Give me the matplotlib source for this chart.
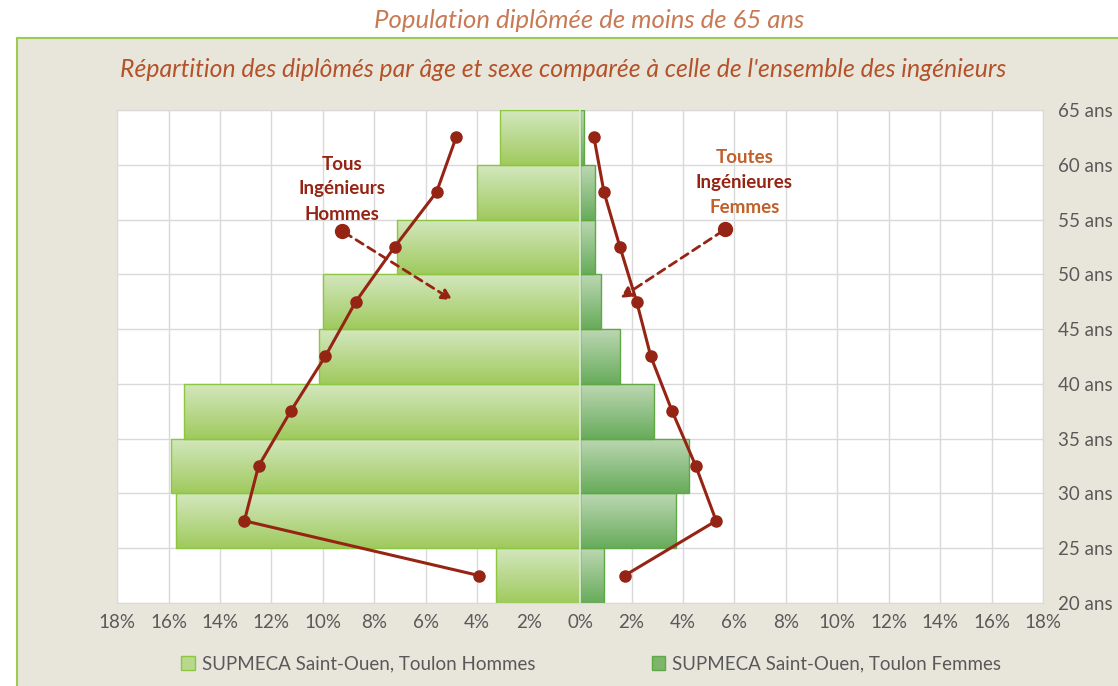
import numpy as np
import matplotlib
matplotlib.use("Agg")
import matplotlib.pyplot as plt
from matplotlib.patches import Patch, Rectangle
from matplotlib.colors import LinearSegmentedColormap

plt.rcParams['font.family'] = ['Lato', 'DejaVu Sans']

# age bands (lower bound of each 5-year band)
ages = [20, 25, 30, 35, 40, 45, 50, 55, 60]
age_ticks = [20, 25, 30, 35, 40, 45, 50, 55, 60, 65]

# SUPMECA graduates, % per band
supmeca_hommes = [3.27, 15.7, 15.9, 15.4, 10.14, 9.99, 7.13, 4.02, 3.11]
supmeca_femmes = [0.93, 3.72, 4.22, 2.86, 1.55, 0.8, 0.58, 0.58, 0.16]

# all engineers, % per band
tous_hommes = [3.92, 13.05, 12.5, 11.25, 9.91, 8.72, 7.21, 5.58, 4.82]
toutes_femmes = [1.73, 5.29, 4.5, 3.58, 2.75, 2.2, 1.55, 0.93, 0.54]

xticks = list(range(-18, 19, 2))

dark_red = '#962414'
orange = '#C0602A'

fig = plt.figure(figsize=(11.18, 6.86), dpi=100)
fig.patch.set_facecolor('white')

# beige frame with green border
fig.add_artist(Rectangle((0.0152, -0.01), 1.0, 0.9546, transform=fig.transFigure,
                         facecolor='#E8E6DB', edgecolor='#9CCB52', linewidth=1.5, zorder=0))

ax = fig.add_axes([0.1047, 0.121, 0.8283, 0.7187])
ax.set_facecolor('white')

men_cmap = LinearSegmentedColormap.from_list('m', ['#A0CA5E', '#D3E7BE'])
women_cmap = LinearSegmentedColormap.from_list('f', ['#68AC5C', '#BCD7B2'])
grad = np.linspace(0, 1, 64).reshape(-1, 1)

bars_m = ax.barh(ages, [-v for v in supmeca_hommes], height=5, align='edge',
                 facecolor='none', edgecolor='#8DC640', linewidth=1, zorder=3)
bars_f = ax.barh(ages, supmeca_femmes, height=5, align='edge',
                 facecolor='none', edgecolor='#5FA843', linewidth=1, zorder=3)

for bars, cmap in ((bars_m, men_cmap), (bars_f, women_cmap)):
    for b in bars:
        x0, y0 = b.get_x(), b.get_y()
        x1, y1 = x0 + b.get_width(), y0 + b.get_height()
        im = ax.imshow(grad, cmap=cmap, extent=[min(x0, x1), max(x0, x1), y0, y1],
                       origin='lower', aspect='auto', zorder=2)
        im.set_clip_path(b)

# light separator at 0
ax.axvline(0, color='#E4EEDC', lw=1.2, zorder=4)

mids = [a + 2.5 for a in ages]
ax.plot([-v for v in tous_hommes], mids, color=dark_red, lw=2.2, marker='o', ms=8, zorder=5)
ax.plot(toutes_femmes, mids, color=dark_red, lw=2.2, marker='o', ms=8, zorder=5)

# annotations
ax.plot([-9.26], [53.96], 'o', color=dark_red, ms=10, zorder=6)
ax.annotate('', xy=(-4.86, 47.5), xytext=(-9.26, 53.96),
            arrowprops=dict(arrowstyle='-|>', color=dark_red, lw=2, ls=(0, (3, 2)),
                            mutation_scale=16), zorder=6)
ax.plot([5.64], [54.1], 'o', color=dark_red, ms=10, zorder=6)
ax.annotate('', xy=(1.48, 47.7), xytext=(5.64, 54.1),
            arrowprops=dict(arrowstyle='-|>', color=dark_red, lw=2, ls=(0, (3, 2)),
                            mutation_scale=16), zorder=6)

for txt, y in (('Tous', 60.0), ('Ingénieurs', 57.8), ('Hommes', 55.5)):
    ax.text(-9.26, y, txt, ha='center', va='center', fontsize=13.5, fontweight='bold',
            color=dark_red, zorder=7)
for txt, y, c in (('Toutes', 60.7, orange), ('Ingénieures', 58.4, dark_red), ('Femmes', 56.1, orange)):
    ax.text(6.38, y, txt, ha='center', va='center', fontsize=13.5, fontweight='bold',
            color=c, zorder=7)

ax.set_xlim(-18, 18)
ax.set_ylim(20, 65)
ax.set_xticks(xticks)
ax.set_xticklabels([f'{abs(t)}%' for t in xticks])
ax.set_yticks(age_ticks)
ax.set_yticklabels([f'{a} ans' for a in age_ticks])
ax.yaxis.tick_right()
ax.tick_params(length=0, labelsize=13.5, colors='#595959', pad=8)
ax.tick_params(axis='y', pad=11)
ax.grid(True, color='#D9D9D9', lw=1)
ax.set_axisbelow(True)
for s in ax.spines.values():
    s.set_color('#D9D9D9')

fig.text(0.527, 0.970, 'Population diplômée de moins de 65 ans', ha='center', va='center',
         fontsize=18.5, style='italic', color='#C87A55')
fig.text(0.504, 0.899, "Répartition des diplômés par âge et sexe comparée à celle de l'ensemble des ingénieurs",
         ha='center', va='center', fontsize=17.8, style='italic', color='#B4522A')

handles = [Patch(facecolor='#B8D98C', edgecolor='#8DC640'),
           Patch(facecolor='#7DB56A', edgecolor='#5FA843')]
fig.legend(handles, ['SUPMECA Saint-Ouen, Toulon Hommes', 'SUPMECA Saint-Ouen, Toulon Femmes'],
           loc='center', bbox_to_anchor=(0.529, 0.032), ncol=2, frameon=False,
           fontsize=13.5, labelcolor='#595959', columnspacing=6.2, handlelength=0.7,
           handleheight=0.7, handletextpad=0.4)

fig.savefig('out.png', dpi=100)
